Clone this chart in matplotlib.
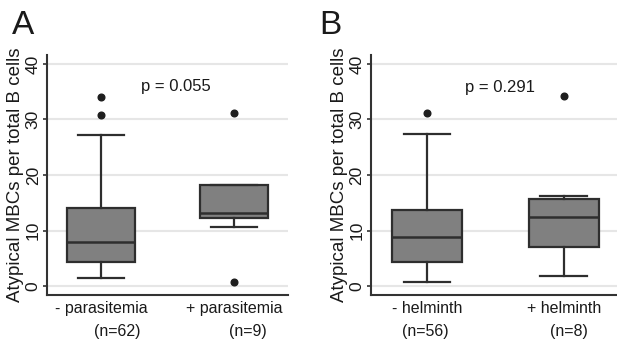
import matplotlib
matplotlib.use("Agg")
import matplotlib.pyplot as plt
import matplotlib.transforms as mtransforms

plt.rcParams['font.family'] = ['Liberation Sans', 'DejaVu Sans']

# Data (box summaries)
groups_a = ["- parasitemia", "+ parasitemia"]
n_a = ["(n=62)", "(n=9)"]
q1_a = [4.4, 12.2]
med_a = [8.0, 13.1]
q3_a = [14.0, 18.2]
whislo_a = [1.4, 10.7]
whishi_a = [27.2, 18.2]
fliers_a = [[34.1, 30.8], [31.2, 0.7]]
p_a = "p = 0.055"

groups_b = ["- helminth", "+ helminth"]
n_b = ["(n=56)", "(n=8)"]
q1_b = [4.3, 7.1]
med_b = [8.9, 12.4]
q3_b = [13.8, 15.7]
whislo_b = [0.8, 1.8]
whishi_b = [27.3, 16.3]
fliers_b = [[31.2], [34.3]]
p_b = "p = 0.291"

yticks = [0, 10, 20, 30, 40]
ylabel = "Atypical MBCs per total B cells"

BOX = "#808080"
EDGE = "#2e2e2e"
GRID = "#e6e6e6"
TXT = "#1a1a1a"


def panel(ax, groups, ns, q1, med, q3, lo, hi, fl, ptxt, xlim, ptxt_xy, n_dx):
    stats = []
    for i in range(len(groups)):
        stats.append(dict(q1=q1[i], med=med[i], q3=q3[i],
                          whislo=lo[i], whishi=hi[i], fliers=fl[i]))
    ax.bxp(stats, positions=[1, 2], widths=0.51, capwidths=0.34,
           patch_artist=True, showfliers=True,
           boxprops=dict(facecolor=BOX, edgecolor=EDGE, linewidth=1.6),
           medianprops=dict(color=EDGE, linewidth=1.8),
           whiskerprops=dict(color=EDGE, linewidth=1.6),
           capprops=dict(color=EDGE, linewidth=1.6),
           flierprops=dict(marker='o', markersize=4.8,
                           markerfacecolor='#1e1e1e', markeredgecolor='#1e1e1e'))
    ax.set_xlim(*xlim)
    ax.set_ylim(-1.6, 41.6)
    ax.set_yticks(yticks)
    ax.set_yticklabels([str(t) for t in yticks], rotation=90, va='center',
                       fontsize=12.5, color=TXT)
    ax.yaxis.grid(True, color=GRID, linewidth=1.5)
    ax.set_axisbelow(True)
    ax.tick_params(axis='y', length=3, width=1.2, pad=1.5, color='#333333')
    ax.tick_params(axis='x', length=0, pad=4)
    ax.set_xticks([1, 2])
    ax.set_xticklabels(groups, fontsize=11.5, color=TXT)
    trans = mtransforms.blended_transform_factory(ax.transData, ax.transAxes)
    for i, n in enumerate(ns):
        ax.annotate(n, xy=(i + 1, 0), xycoords=trans,
                    xytext=(n_dx[i], -36), textcoords='offset pixels',
                    ha='center', va='center', fontsize=11.5, color=TXT)
    ax.set_ylabel(ylabel, fontsize=13.5, color=TXT, labelpad=1)
    for s in ['top', 'right']:
        ax.spines[s].set_visible(False)
    for s in ['left', 'bottom']:
        ax.spines[s].set_linewidth(1.5)
        ax.spines[s].set_color('#333333')
    ax.text(ptxt_xy[0], ptxt_xy[1], ptxt, ha='center', va='center',
            fontsize=12, color=TXT)


fig = plt.figure(figsize=(6.17, 3.46), dpi=100)
ax_a = fig.add_axes([0.076, 0.147, 0.391, 0.694])
ax_b = fig.add_axes([0.601, 0.147, 0.399, 0.694])

panel(ax_a, groups_a, n_a, q1_a, med_a, q3_a, whislo_a, whishi_a, fliers_a,
      p_a, (0.594, 2.406), (1.564, 35.9), [16, 14])
panel(ax_b, groups_b, n_b, q1_b, med_b, q3_b, whislo_b, whishi_b, fliers_b,
      p_b, (0.59, 2.39), (1.535, 35.7), [-2, 5])

fig.text(12 / 617, 1 - 10 / 346, "A", fontsize=24, va='top', ha='left', color=TXT)
fig.text(319 / 617, 1 - 10 / 346, "B", fontsize=24, va='top', ha='left', color=TXT)

fig.savefig("out.png", dpi=100)
